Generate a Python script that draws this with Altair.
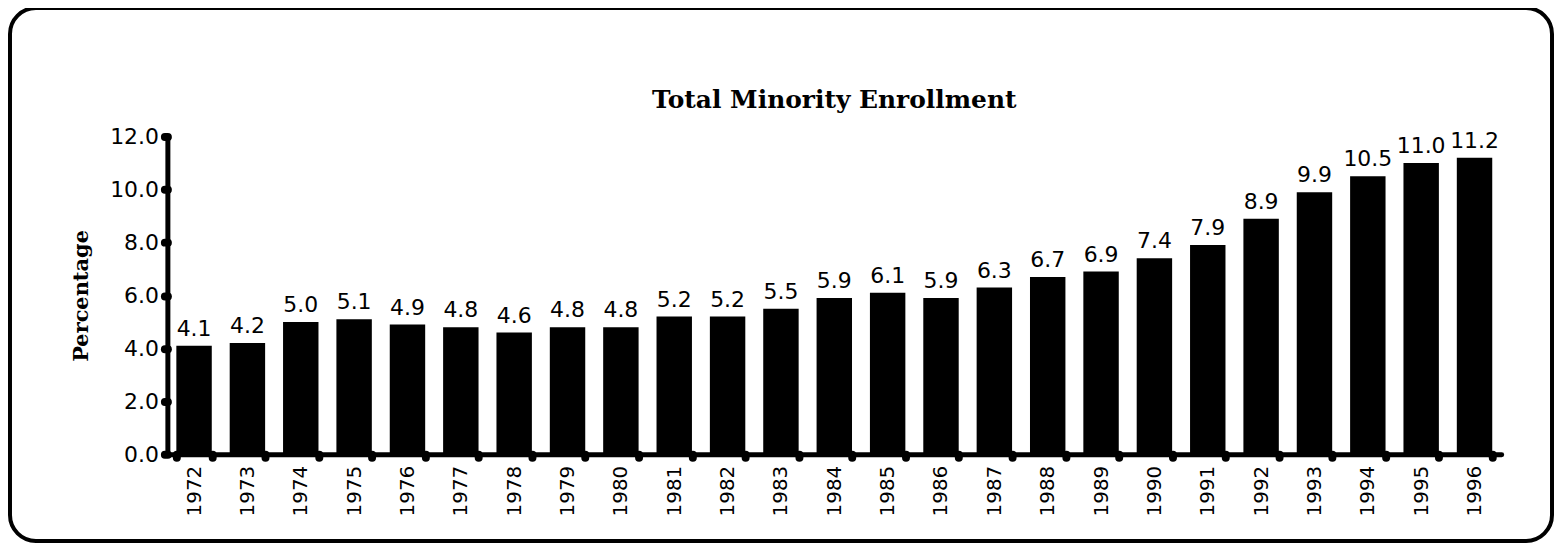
import altair as alt
import pandas as pd

years = ["1972", "1973", "1974", "1975", "1976", "1977", "1978", "1979", "1980",
         "1981", "1982", "1983", "1984", "1985", "1986", "1987", "1988", "1989",
         "1990", "1991", "1992", "1993", "1994", "1995", "1996"]
values = [4.1, 4.2, 5.0, 5.1, 4.9, 4.8, 4.6, 4.8, 4.8, 5.2, 5.2, 5.5, 5.9,
          6.1, 5.9, 6.3, 6.7, 6.9, 7.4, 7.9, 8.9, 9.9, 10.5, 11.0, 11.2]
y_ticks = [0, 2, 4, 6, 8, 10, 12]
title_text = "Total Minority Enrollment"

df = pd.DataFrame({"year": years, "value": values})

SANS = "DejaVu Sans"
SERIF = "DejaVu Serif"
W, H = 1339, 319

x_enc = alt.X(
    "year:N", sort=None,
    scale=alt.Scale(paddingInner=0.336, paddingOuter=0.168),
    axis=alt.Axis(
        title=None, labelAngle=-90, tickBand="extent",
        tickSize=3, tickWidth=8, tickCap="round", tickColor="black",
        domainWidth=5, domainCap="round", domainColor="black",
        labelPadding=8, labelFontSize=20, labelFont=SANS, labelColor="black",
    ),
)
y_enc = alt.Y(
    "value:Q",
    scale=alt.Scale(domain=[0, 12], nice=False),
    axis=alt.Axis(
        values=y_ticks, format=".1f", grid=False,
        title="Percentage", titleFont=SERIF, titleFontWeight="bold",
        titleFontSize=21, titleColor="black", titlePadding=18,
        tickSize=3, tickWidth=8, tickCap="round", tickColor="black",
        domainWidth=5, domainCap="round", domainColor="black",
        labelPadding=6, labelFontSize=22, labelFont=SANS, labelColor="black",
    ),
)

base = alt.Chart(df)
bars = base.mark_bar(color="black").encode(x=x_enc, y=y_enc)
labels = base.mark_text(
    font=SANS, fontSize=22, color="black", baseline="alphabetic", dy=-10
).encode(x=alt.X("year:N", sort=None), y=alt.Y("value:Q"), text=alt.Text("value:Q", format=".1f"))

one = pd.DataFrame({"f": [0]})
frame = alt.Chart(one).mark_rect(
    filled=False, stroke="black", strokeWidth=4, cornerRadius=26
).encode(
    x=alt.value(-158), x2=alt.value(1390), y=alt.value(-129), y2=alt.value(406)
)
title = alt.Chart(one).mark_text(
    font=SERIF, fontWeight="bold", fontSize=25, color="black",
    baseline="alphabetic", align="center",
).encode(x=alt.value(W / 2), y=alt.value(-29), text=alt.value(title_text))

chart = alt.layer(frame, title, bars, labels).properties(
    width=W, height=H,
    padding={"left": 160, "top": 128, "right": 53, "bottom": 91},
    autosize=alt.AutoSizeParams(type="none"),
    background="white",
).configure_view(stroke=None, strokeWidth=0)

chart.save("out.html", embed_options={"renderer": "svg", "actions": False})
